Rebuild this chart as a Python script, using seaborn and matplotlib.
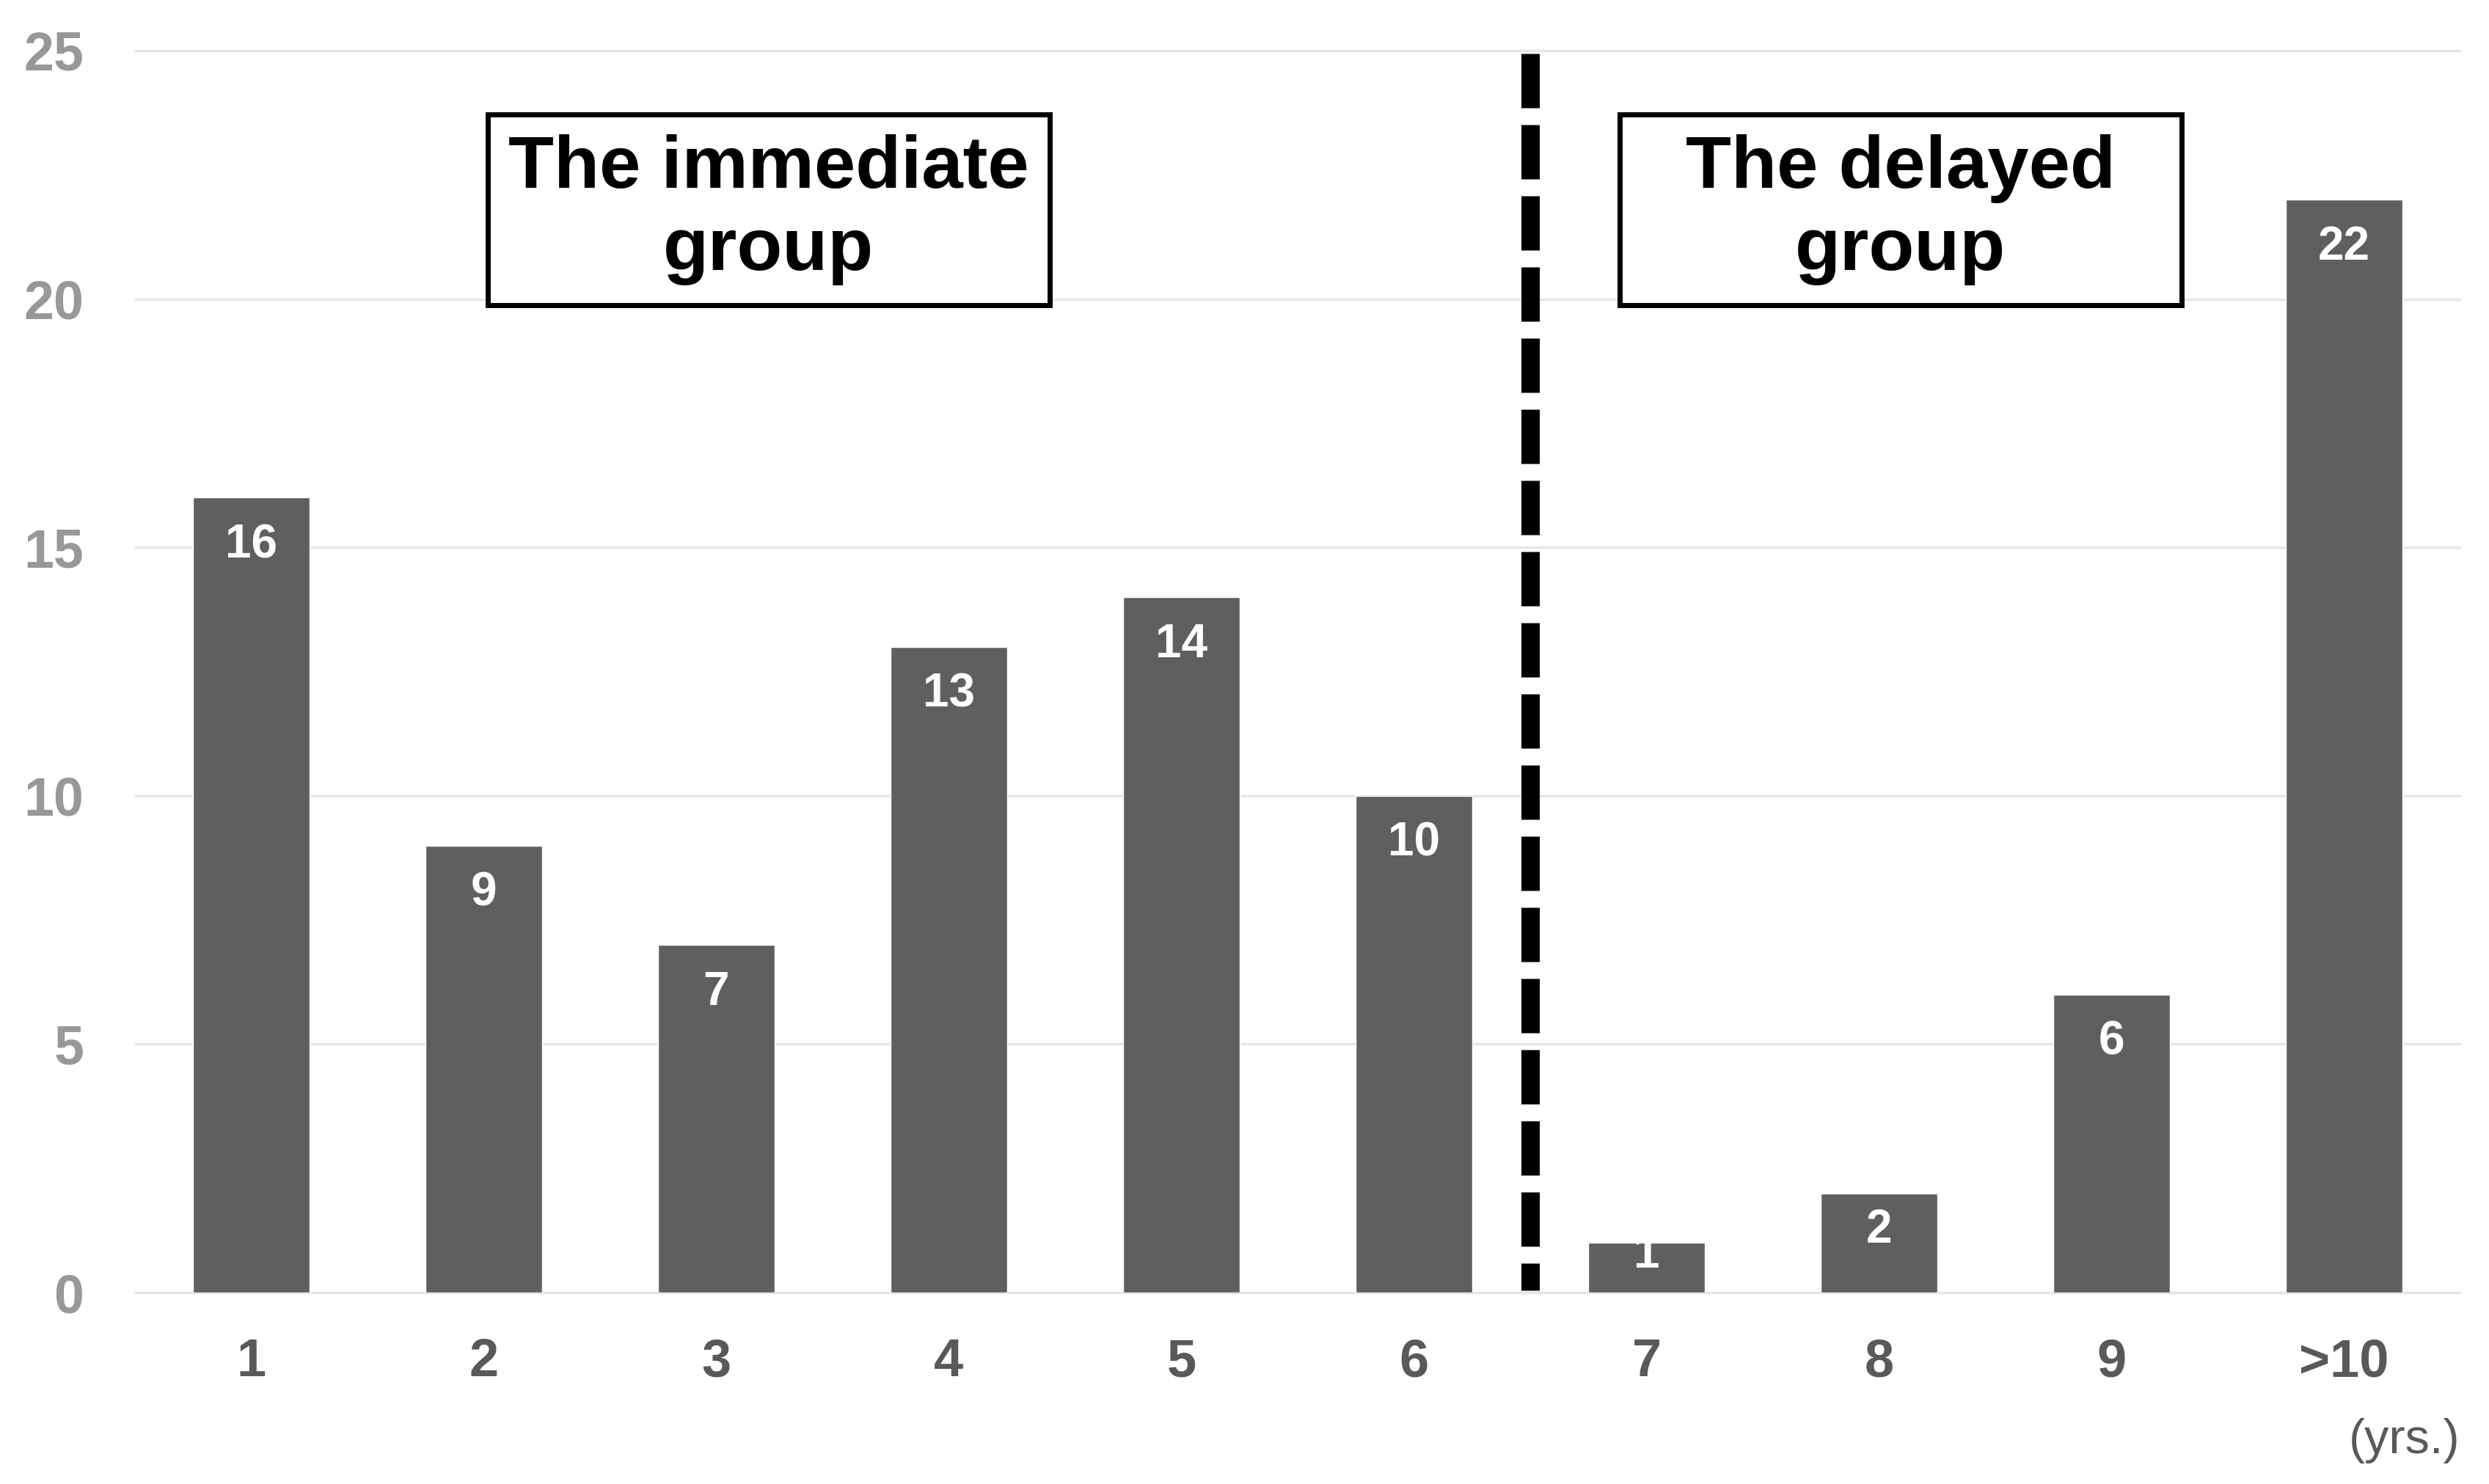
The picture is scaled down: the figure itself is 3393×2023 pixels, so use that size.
import matplotlib
matplotlib.use("Agg")
import matplotlib.pyplot as plt
from matplotlib.patches import Rectangle
import seaborn as sns
import pandas as pd

# ---- data ----
categories = ["1", "2", "3", "4", "5", "6", "7", "8", "9", ">10"]
counts = [16, 9, 7, 13, 14, 10, 1, 2, 6, 22]
y_ticks = [0, 5, 10, 15, 20, 25]
group_labels = ["The immediate\ngroup", "The delayed\ngroup"]
unit_label = "(yrs.)"

sns.set_theme(style="white")
plt.rcParams['font.family'] = ['Liberation Sans', 'DejaVu Sans']

DPI = 100
fig = plt.figure(figsize=(33.93, 20.23), dpi=DPI)
ax = fig.add_axes([0.0542, 0.129, 0.9343, 0.8369])

df = pd.DataFrame({"cat": categories, "n": counts})
sns.barplot(data=df, x="cat", y="n", order=categories, color="#5f5f5f",
            saturation=1, width=0.5, errorbar=None, ax=ax, zorder=2)

ax.set_xlim(-0.5, len(categories) - 0.5)
ax.set_ylim(0, 25)
ax.set_yticks(y_ticks)
ax.set_xlabel("")
ax.set_ylabel("")
for s in ax.spines.values():
    s.set_visible(False)

ax.yaxis.grid(True, color="#e6e6e6", linewidth=2.4, zorder=0)
ax.xaxis.grid(False)
ax.set_axisbelow(True)
for gl in ax.get_ygridlines():
    gl.set_clip_on(False)

ax.tick_params(axis="y", length=0, pad=50, labelsize=53, labelcolor="#989898")
ax.tick_params(axis="x", length=0, pad=44, labelsize=52, labelcolor="#595959")
for t in ax.get_yticklabels():
    t.set_fontweight("bold")
for t in ax.get_xticklabels():
    t.set_fontweight("bold")

# bar value labels inside the top end of each bar
fig.canvas.draw()
pt_per_unit = (ax.transData.transform((0, 1))[1] - ax.transData.transform((0, 0))[1]) * 72 / DPI
for i, v in enumerate(counts):
    off = min(59, v * pt_per_unit / 2)
    ax.annotate(str(v), xy=(i, v), xytext=(0, -off), textcoords="offset points",
                ha="center", va="baseline", color="white", fontsize=46,
                fontweight="bold", zorder=4)

# dashed separator between the groups
split = 5.5
ax.plot([split, split], [24.94, 0.05], color="black", linewidth=18,
        linestyle=(0, (2.96, 0.92)), solid_capstyle="butt", zorder=3)

# group boxes
box_bottom, box_top = 19.88, 23.72
boxes = [(1.017, 3.434), (5.885, 8.30)]
for (x0, x1), lab in zip(boxes, group_labels):
    ax.add_patch(Rectangle((x0, box_bottom), x1 - x0, box_top - box_bottom, fill=True,
                           facecolor="white", edgecolor="black", linewidth=5, zorder=5))
    ax.text((x0 + x1) / 2, (box_bottom + box_top) / 2, lab, ha="center", va="center",
            fontsize=73, fontweight="bold", color="black", linespacing=1.25, zorder=6)

ax.text(1.0, -0.119, unit_label, transform=ax.transAxes, ha="right", va="center",
        fontsize=48, color="#595959")

fig.savefig("out.png", dpi=DPI, facecolor="white")
